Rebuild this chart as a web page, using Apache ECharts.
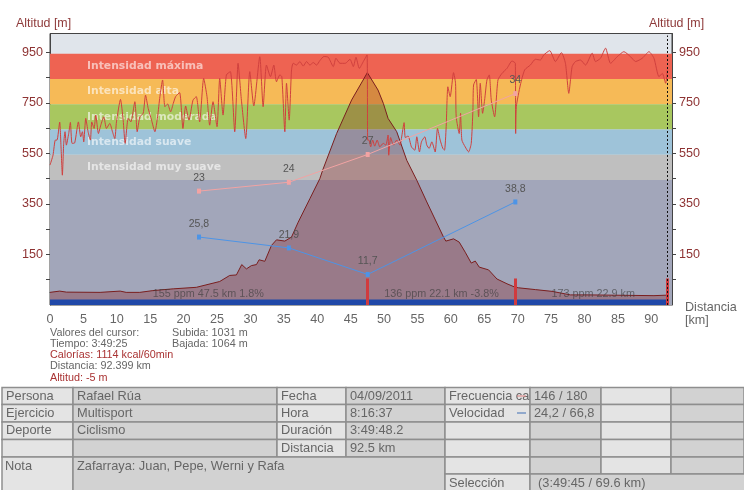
<!DOCTYPE html>
<html><head><meta charset="utf-8">
<style>html,body{margin:0;padding:0;background:#fff}#c{width:744px;height:490px}</style>
<script src="https://cdn.jsdelivr.net/npm/echarts@6/dist/echarts.min.js"></script>
</head><body><div id="c"></div>
<script>
const FONT = 'Liberation Sans';
const xMax = 93.1, yMin = -50, yMax = 1025;
const xLabelValues = [0,5,10,15,20,25,30,35,40,45,50,55,60,65,70,75,80,85,90];
const xTickValues = [0,5,10,15,20,25,30,35,40,45,50,55,60,65,70,75,80,85,90,93.1];
const yLabelValues = [150,350,550,750,950];
const yTickValues = [50,150,250,350,450,550,650,750,850,950];

const zoneNames = ['Intensidad máxima','Intensidad alta','Intensidad moderada','Intensidad suave','Intensidad muy suave',''];
const zoneTop = [945,845,745,645,545,445];
const zoneBottom = [845,745,645,545,445,-50];
const zoneColors = ['#EE6352','#F6BA57','#A8C75F','#9EC3D9','#BFBFBF','#A2A6BA'];

const altitude = [[0,0],[1.45,5],[2.45,1],[7.5,0],[10.5,5],[11.4,0],[13.44,0],[15.4,7],[18.45,14],[21.9,20],[25.4,43],[26.9,67],[27.9,69],[28.7,110],[29.4,93],[30.15,106],[30.9,110],[31.3,129],[32.15,123],[33.15,186],[33.9,208],[35.15,203],[36.15,219],[37.15,278],[38.9,371],[40.4,451],[40.8,483],[42.9,629],[45.15,762],[47.5,870],[49.1,801],[49.9,748],[50.6,689],[51.9,636],[53.4,523],[54.9,444],[56.4,358],[58.9,219],[59.25,203],[60.4,212],[61.25,199],[62.15,159],[63.05,116],[63.65,124],[64.25,100],[65.65,89],[66.9,53],[68.4,34],[69.65,20],[70.15,18],[72.65,11],[75.15,4],[77.9,-10],[80.65,-10],[90.4,-13],[92.4,-11]];

const pulse = [[0,504],[.45,543],[.8,603],[1.05,603],[1.45,674],[1.65,576],[1.85,464],[2.05,590],[2.25,636],[2.45,583],[2.8,629],[3.05,673],[3.3,590],[3.7,592],[4.25,675],[4.6,616],[4.85,636],[5.05,596],[5.35,689],[5.7,636],[6.05,603],[6.25,675],[6.6,649],[6.85,702],[7.25,629],[7.6,662],[8.05,695],[8.45,649],[8.95,669],[9.35,636],[9.7,609],[9.95,675],[10.55,764],[10.95,682],[11.25,590],[11.7,689],[12.1,675],[12.7,755],[13.05,636],[13.45,695],[13.95,709],[14.3,781],[14.7,728],[15.2,682],[15.7,636],[16.1,695],[16.45,775],[16.85,841],[17.2,735],[17.6,746],[18.05,715],[18.45,748],[18.8,775],[19.4,791],[19.9,649],[20.3,738],[20.8,682],[21.4,761],[21.9,775],[22.4,675],[23,847],[23.5,775],[23.9,662],[24.4,755],[25,656],[25.4,847],[25.9,702],[26.4,861],[27,874],[27.65,636],[28.15,907],[28.65,761],[29.3,609],[29.9,874],[30.5,738],[31.4,933],[31.9,735],[32.4,900],[33,854],[33.5,900],[33.9,834],[34.4,861],[34.7,854],[35.15,636],[35.4,828],[35.8,682],[36.15,881],[36.4,907],[36.9,900],[37.4,914],[37.9,896],[38.4,914],[38.9,900],[39.4,910],[39.9,900],[40.4,918],[41,934],[41.65,931],[42.4,894],[42.8,927],[43.4,907],[44.2,907],[44.9,923],[45.4,894],[45.8,931],[46.3,887],[46.9,914],[47.45,940],[47.55,603],[47.74,603],[48,576],[48.3,603],[48.6,579],[48.97,603],[49.37,576],[49.87,590],[50.27,583],[50.6,623],[50.7,543],[50.98,613],[51.4,583],[51.9,603],[52.4,583],[52.6,609],[53,672],[53.18,613],[53.6,619],[54.1,576],[54.6,563],[54.9,616],[55.3,556],[55.6,596],[56.1,616],[56.4,583],[56.75,570],[57.15,596],[57.65,556],[58,649],[58.4,603],[58.8,570],[59.05,563],[59.3,656],[59.55,814],[59.9,775],[60.4,870],[60.7,828],[60.8,695],[61.25,629],[61.45,709],[61.65,603],[62.15,576],[62.65,556],[63.05,590],[63.3,722],[63.4,821],[63.8,843],[64.15,695],[64.4,828],[64.75,709],[65.05,761],[65.4,841],[65.75,861],[66.05,761],[66.55,695],[67.05,841],[67.65,867],[68.4,887],[69.15,916],[69.65,907],[69.7,629],[69.8,735],[70.4,821],[71.05,881],[71.9,900],[72.65,923],[73.4,920],[73.9,940],[74.8,957],[75.65,914],[76.55,949],[77.15,907],[77.65,788],[78.15,894],[78.65,914],[79.4,920],[80.15,900],[81.15,947],[81.65,914],[82.4,927],[83.15,967],[83.9,907],[84.9,933],[85.9,953],[86.9,933],[87.65,914],[88.65,927],[89.65,953],[90.4,927],[91.15,854],[91.65,867],[92.15,828],[92.4,881]];

const lapKm = [22.3,35.75,47.55,69.65];
const cadence = [401,436,546,787];
const cadenceLabels = ['23','24','27','34'];
const speed = [219,176,71,358];
const speedLabels = ['25,8','21,9','11,7','38,8'];

const splitKm = [47.5,69.6,92.4];
const splitTop = 55;
const stripTop = -28;
const cursorKm = 92.4;
const segmentKm = [23.7,58.6,81.3];
const segmentAlt = [-6,-6,-6];
const segmentLabels = ['155 ppm 47.5 km 1.8%','136 ppm 22.1 km -3.8%','173 ppm 22.9 km'];

const infoLeft = ['Valores del cursor:','Tiempo: 3:49:25','Calorías: 1114 kcal/60min','Distancia: 92.399 km','Altitud: -5 m'];
const infoRight = ['Subida: 1031 m','Bajada: 1064 m'];
const tableRows = [
  ['Persona','Rafael Rúa','Fecha','04/09/2011','Frecuencia ca','146 / 180','',''],
  ['Ejercicio','Multisport','Hora','8:16:37','Velocidad','24,2 / 66,8','',''],
  ['Deporte','Ciclismo','Duración','3:49:48.2','','','',''],
  ['','','Distancia','92.5 km','','','','']
];
const noteLabel = 'Nota', noteText = 'Zafarraya: Juan, Pepe, Werni y Rafa';
const selLabel = 'Selección', selText = '(3:49:45 / 69.6 km)';

// layout of surrounding page furniture
const colX = [2,73,277,346,445,530,601,671,744];
const rowY = [387.5,404.5,422,439.5,457,474,490];
const light = '#E4E4E4', dark = '#D2D2D2', edge = '#8E8E8E', ink = '#666666', brown = '#8E3A3A';

const g = [];
function txt(x,y,s,size,fill,extra){ g.push({type:'text',silent:true,z:50,x,y,style:Object.assign({text:s,font:size+'px "'+FONT+'"',fill,verticalAlign:'middle',align:'left'},extra||{})}); }
function cell(x0,y0,x1,y1,fill){ g.push({type:'rect',silent:true,z:40,shape:{x:x0,y:y0,width:x1-x0,height:y1-y0},style:{fill,stroke:edge,lineWidth:1.5}}); }

tableRows.forEach((r,i)=>{ r.forEach((s,j)=>{
  cell(colX[j],rowY[i],colX[j+1],rowY[i+1],j%2?dark:light);
  if(s) txt(colX[j]+4,(rowY[i]+rowY[i+1])/2,s,12.8,ink);
});});
cell(colX[0],rowY[4],colX[1],rowY[6]+2,light); txt(colX[0]+3,rowY[4]+9,noteLabel,12.8,ink);
cell(colX[1],rowY[4],colX[4],rowY[6]+2,dark); txt(colX[1]+4,rowY[4]+9,noteText,12.8,ink);
for(let j=4;j<8;j++) cell(colX[j],rowY[4],colX[j+1],rowY[5],j%2?dark:light);
cell(colX[4],rowY[5],colX[5],rowY[6]+2,light); txt(colX[4]+4,rowY[5]+9,selLabel,12.8,ink);
cell(colX[5],rowY[5],colX[8]+2,rowY[6]+2,dark); txt(colX[5]+8,rowY[5]+9,selText,12.8,ink);
// small legend dashes in the table
g.push({type:'line',silent:true,z:51,shape:{x1:517,y1:413,x2:526,y2:413},style:{stroke:'#3F6FB5',lineWidth:1}});
g.push({type:'line',silent:true,z:51,shape:{x1:517,y1:396,x2:526,y2:396},style:{stroke:'#E08080',lineWidth:1}});

const infoY = [333.5,344.5,355.5,366.5,378];
infoLeft.forEach((s,i)=>txt(50,infoY[i],s,10.8,(i===2||i===4)?'#A93232':ink));
infoRight.forEach((s,i)=>txt(172,infoY[i],s,10.8,ink));
txt(16,23.5,'Altitud [m]',12.4,brown);
txt(649,23.5,'Altitud [m]',12.4,brown);
txt(685,307.5,'Distancia',12.6,ink);
txt(685,320.5,'[km]',12.6,ink);

const yAxisBase = {type:'value',min:yMin,max:yMax,splitLine:{show:false},
  axisLine:{show:true,lineStyle:{color:'#444'}},
  axisTick:{show:true,length:4,lineStyle:{color:'#444'},customValues:yTickValues},
  axisLabel:{color:'#8E3333',fontSize:12.6,fontFamily:FONT,margin:7,customValues:yLabelValues}};

const labelStyle = {show:true,position:'top',distance:5,color:'#555',fontSize:10.5,fontFamily:FONT};
const chart = echarts.init(document.getElementById('c'),null,{renderer:'canvas'});
chart.setOption({
  animation:false,
  textStyle:{fontFamily:FONT},
  grid:{left:50,right:72,top:33.5,bottom:185,show:true,backgroundColor:'#E0E5EB',borderColor:'#444',borderWidth:1},
  xAxis:{type:'value',min:0,max:xMax,splitLine:{show:false},
    axisLine:{lineStyle:{color:'#444'}},
    axisTick:{length:4,lineStyle:{color:'#444'},customValues:xTickValues},
    axisLabel:{color:'#666',fontSize:12.6,fontFamily:FONT,margin:8,customValues:xLabelValues}},
  yAxis:[Object.assign({},yAxisBase,{position:'left'}),Object.assign({},yAxisBase,{position:'right'})],
  graphic:{elements:g},
  series:[
    {type:'line',name:'zones',data:[],silent:true,z:1,
      markArea:{silent:true,z:1,data:zoneNames.map((n,i)=>[
        {name:n,coord:[0,zoneTop[i]],itemStyle:{color:zoneColors[i]},
         label:{show:!!n,position:'insideLeft',distance:37,color:'rgba(255,255,255,0.6)',fontFamily:'DejaVu Sans',fontWeight:'bold',fontSize:10.8}},
        {coord:[xMax,zoneBottom[i]]}])}},
    {type:'line',name:'Altitud',data:altitude,showSymbol:false,silent:true,z:2,
      lineStyle:{color:'#7A1F1F',width:1},areaStyle:{color:'rgba(128,10,10,0.4)',origin:'start'}},
    {type:'line',name:'Frecuencia',data:pulse,showSymbol:false,silent:true,z:3,smooth:0.2,
      lineStyle:{color:'#D0403E',width:1}},
    {type:'line',name:'Cadencia',data:lapKm.map((k,i)=>[k,cadence[i]]),silent:true,z:4,
      symbol:'rect',symbolSize:[4,5],lineStyle:{color:'#F2A3A3',width:1},itemStyle:{color:'#F2A3A3'},
      label:Object.assign({},labelStyle,{formatter:p=>cadenceLabels[p.dataIndex]})},
    {type:'line',name:'Velocidad',data:lapKm.map((k,i)=>[k,speed[i]]),silent:true,z:4,
      symbol:'rect',symbolSize:[4,5],lineStyle:{color:'#4D94E6',width:1},itemStyle:{color:'#4D94E6'},
      label:Object.assign({},labelStyle,{formatter:p=>speedLabels[p.dataIndex]})},
    {type:'line',name:'marks',data:[],silent:true,z:5,
      markArea:{silent:true,z:5,data:[[{coord:[0,stripTop],itemStyle:{color:'#2048A8'}},{coord:[cursorKm,yMin]}]]}},
    {type:'line',name:'splits',data:[],silent:true,z:6,
      markLine:{silent:true,z:6,symbol:'none',label:{show:false},lineStyle:{color:'#D13B3E',width:3,type:'solid'},
        data:splitKm.map(k=>[{coord:[k,yMin]},{coord:[k,splitTop]}])}},
    {type:'line',name:'cursor',data:[],silent:true,z:7,
      markLine:{silent:true,z:7,symbol:'none',label:{show:false},lineStyle:{color:'#111',width:1,type:[2,2]},
        data:[[{coord:[cursorKm,yMin]},{coord:[cursorKm,yMax-8]}]]}},
    {type:'scatter',name:'segments',data:segmentKm.map((k,i)=>[k,segmentAlt[i]]),symbolSize:0,silent:true,z:8,
      label:{show:true,position:'inside',color:'rgba(60,60,60,0.8)',fontSize:10.8,fontFamily:FONT,formatter:p=>segmentLabels[p.dataIndex]}}
  ]
});
</script></body></html>
